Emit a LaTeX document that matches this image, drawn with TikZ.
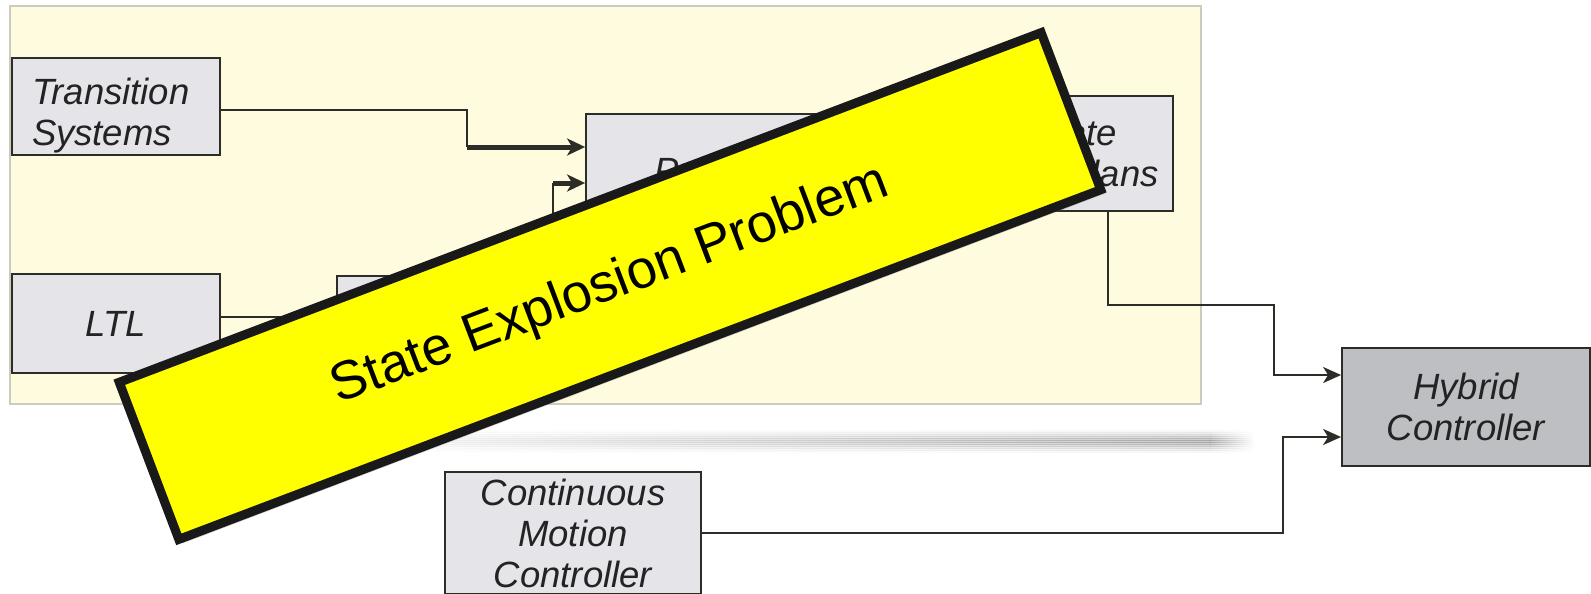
\documentclass[tikz,border=0pt]{standalone}
\usepackage{fontspec}
\setmainfont{Liberation Sans}
\usetikzlibrary{arrows.meta,shadows}

\definecolor{panelfill}{RGB}{255,251,222}
\definecolor{panelline}{RGB}{205,204,188}
\definecolor{boxfill}{RGB}{228,228,233}
\definecolor{hybfill}{RGB}{190,191,195}
\definecolor{boxline}{RGB}{45,45,40}
\definecolor{boxtext}{RGB}{35,35,35}
\definecolor{warnline}{RGB}{25,25,25}
\definecolor{warnfill}{RGB}{255,255,0}

\begin{document}
\begin{tikzpicture}[x=1pt, y=-1pt,
    block/.style={draw=boxline, line width=1.8pt, fill=boxfill, text=boxtext,
      font=\fontsize{36.5}{41}\selectfont\itshape, inner sep=0pt, align=center},
    feed/.style={draw=boxline, line width=2pt},
    arrow/.style={feed, -{Stealth[length=18pt, width=16pt, inset=5pt]}},
    thickarrow/.style={feed, line width=5pt, -{Stealth[length=18pt, width=17pt, inset=5pt]}},
    banner/.style={draw=warnline, line width=9pt, fill=warnfill, inner sep=0pt,
      font=\fontsize{54}{60}\selectfont,
      drop shadow={shadow xshift=4pt, shadow yshift=-4pt, opacity=.35}}]
  \useasboundingbox (0,0) rectangle (1591,594);

  % cream panel
  \fill [panelfill, draw=panelline, line width=1.5pt] (10,6) rectangle (1201,404);
  % soft shadow band below it, built from thin strips
  \foreach \dy/\op in {0/.03, 2/.06, 4/.1, 6/.14, 8/.18, 10/.2, 12/.18, 14/.14, 16/.1, 18/.06, 20/.03} {
    \shade [left color=white, right color=black, opacity=\op] (260,430+\dy) rectangle (1210,432+\dy);
    \shade [left color=black, right color=white, opacity=\op] (1210,430+\dy) rectangle (1255,432+\dy);
  }

  % blocks
  \node [block, minimum width=208pt, minimum height=97pt, text width=168pt, align=left, text depth=30pt] (ts) at (116,106.5) {Transition\\Systems};
  \node [block, minimum width=208pt, minimum height=99pt] (ltl) at (116,323.5) {LTL};
  \node [block, minimum width=183pt, minimum height=97pt] (buchi) at (428.5,324.5) {Büchi\\Automaton};
  \node [block, minimum width=262pt, minimum height=154pt] (prod) at (717,191) {Product\\Automaton};
  \node [block, minimum width=264pt, minimum height=115pt] (disc) at (1041,153.5) {Generate\\Discrete Plans};
  \node [block, fill=hybfill, minimum width=248pt, minimum height=118pt] (hyb) at (1466,407) {Hybrid\\Controller};
  \node [block, minimum width=256pt, minimum height=122pt] (cmc) at (573,533) {Continuous\\Motion\\Controller};

  % bends of the connectors
  \coordinate (tsbend) at (467,147);
  \coordinate (bubend) at (553,183);
  \coordinate (discbend) at (1274,305);
  \coordinate (cmcbend) at (1283,437);

  \draw [feed] ([yshift=-3pt]ts.east) -| (tsbend);
  \draw [thickarrow] (tsbend) -- (tsbend -| prod.west);
  \draw [arrow] ([yshift=6.5pt]ltl.east) -- ([yshift=6.5pt]ltl.east -| buchi.west);
  \draw [feed] (buchi.east) -| (bubend);
  \draw [thickarrow] (bubend) -- (bubend -| prod.west);
  \draw [arrow] (prod.east |- disc.west) -- (disc.west);
  \draw [arrow] ([xshift=67pt]disc.south) |- (discbend) |- ([yshift=32pt]hyb.west);
  \draw [arrow] (cmc.east) -| (cmcbend) -- (cmcbend -| hyb.west);

  % the warning strip laid over everything
  \node [banner, rotate=20.77, minimum width=986pt, minimum height=168pt] (warn) at (610,286) {State Explosion Problem};
\end{tikzpicture}
\end{document}
